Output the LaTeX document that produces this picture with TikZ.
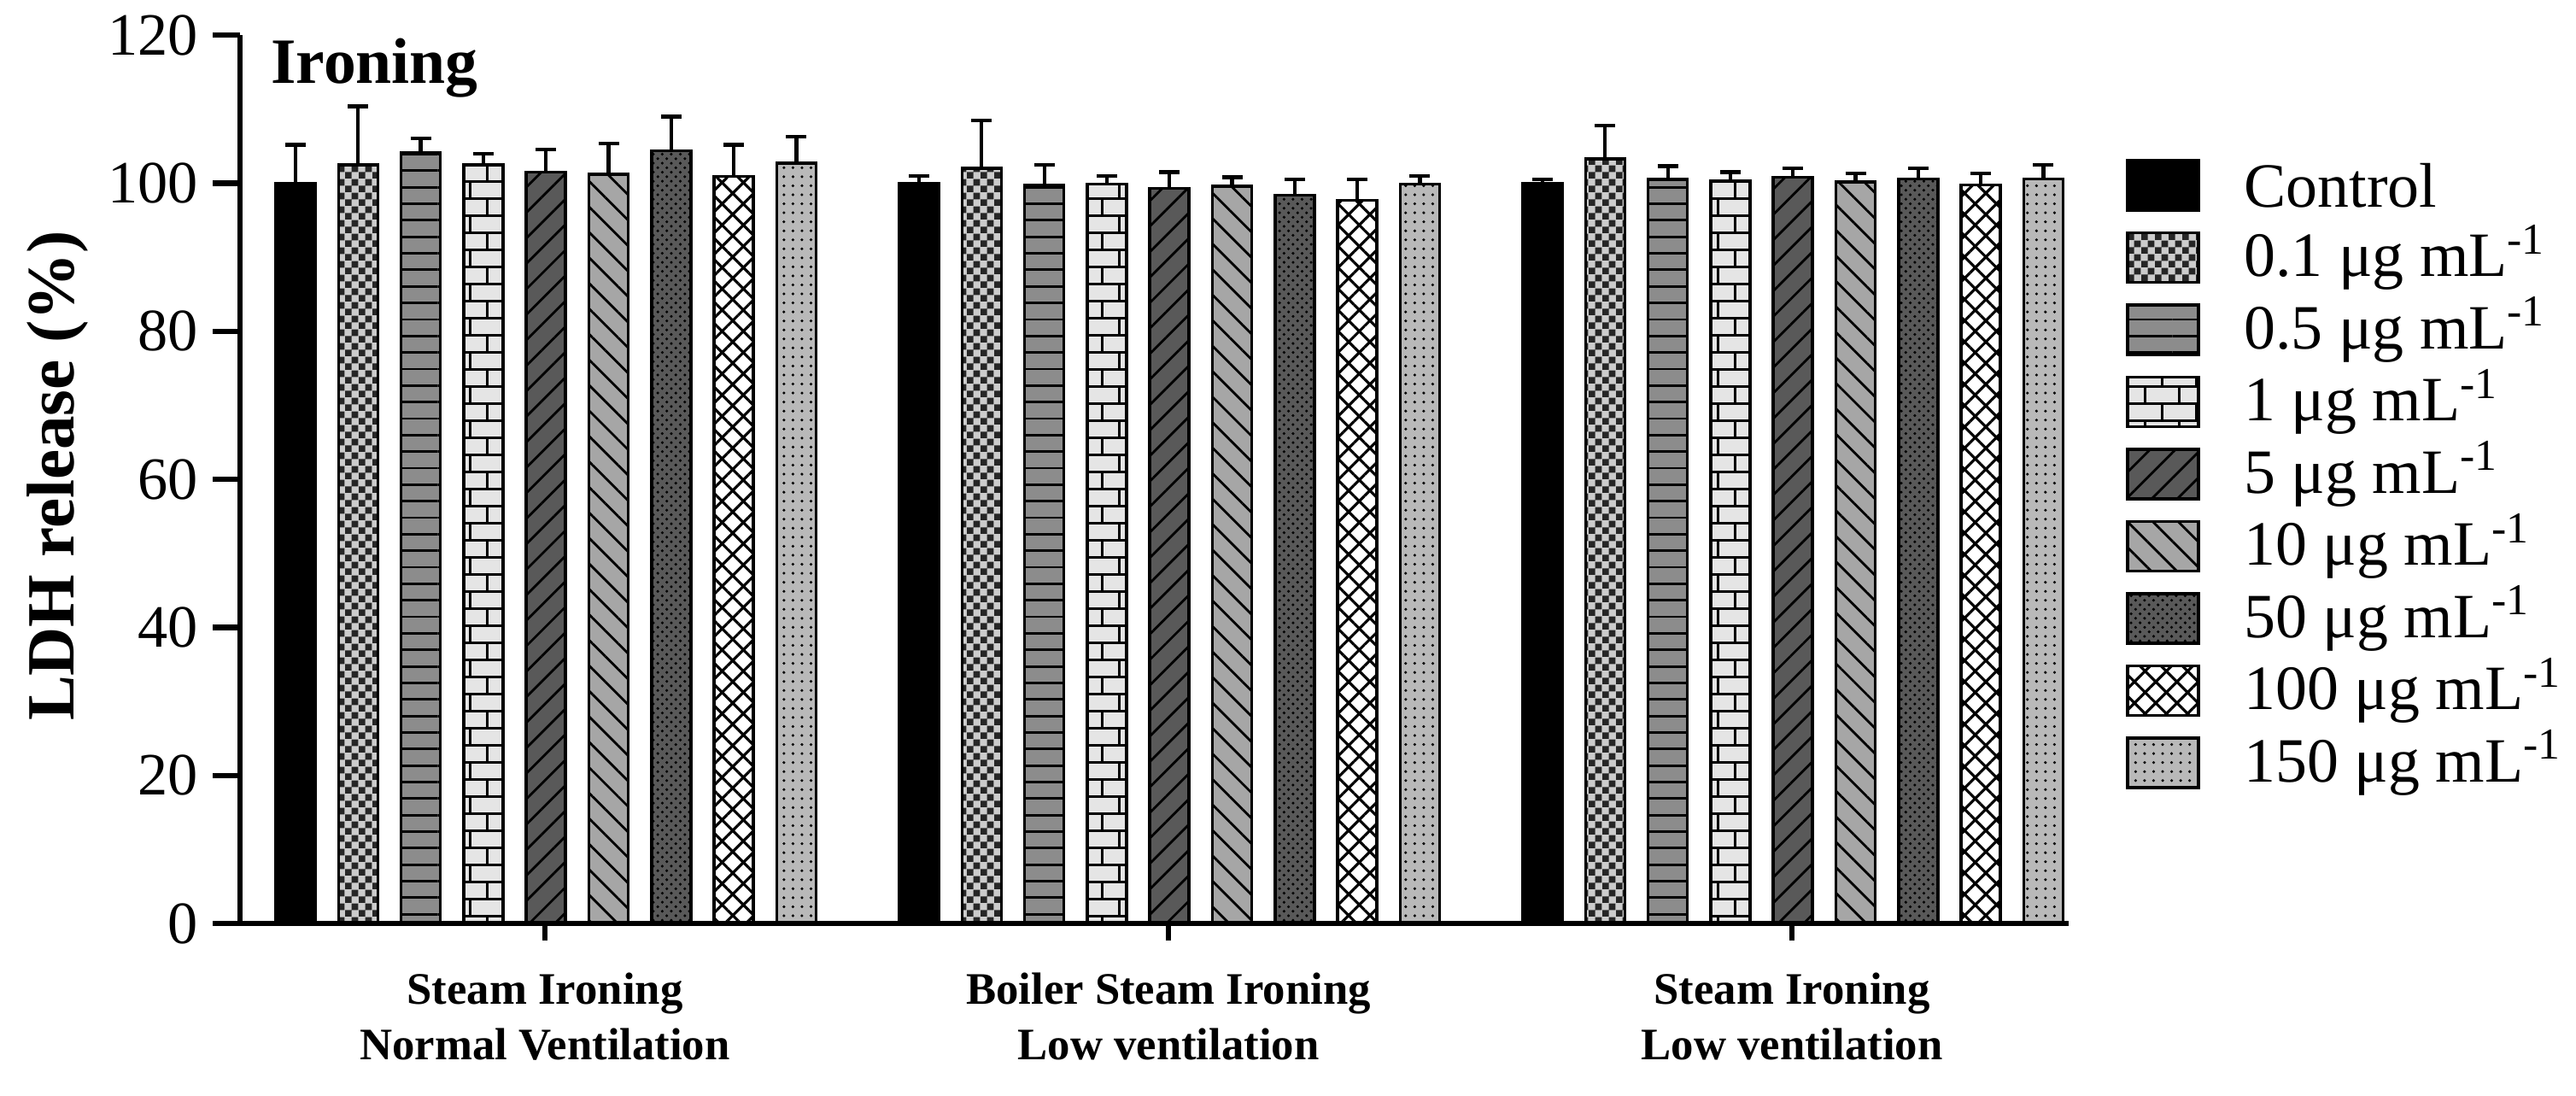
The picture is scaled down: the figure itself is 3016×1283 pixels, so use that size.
\documentclass[tikz,border=0pt]{standalone}
\usepackage{fontspec}
\setmainfont{Liberation Serif}
\usetikzlibrary{patterns,patterns.meta}
\newcommand{\munit}{μg mL\textsuperscript{-1}}
\pgfdeclarepatternformonly{finecheck}{\pgfpointorigin}{\pgfpoint{4.6pt}{4.6pt}}{\pgfpoint{4.6pt}{4.6pt}}{%
 \pgfpathrectangle{\pgfpointorigin}{\pgfpoint{2.3pt}{2.3pt}}%
 \pgfpathrectangle{\pgfpoint{2.3pt}{2.3pt}}{\pgfpoint{2.3pt}{2.3pt}}%
 \pgfusepath{fill}}
\tikzset{
 bar/.style={draw=black,line width=1pt},
 s0/.style={bar,fill=black},
 s1/.style={bar,fill=gray!40},
 s2/.style={bar,fill=gray!90},
 s3/.style={bar,fill=gray!20},
 s4/.style={bar,fill=black!65},
 s5/.style={bar,fill=gray!70},
 s6/.style={bar,fill=black!65},
 s7/.style={bar,fill=white},
 s8/.style={bar,fill=gray!55},
 p0/.style={},
 p1/.style={pattern=finecheck,pattern color=black!85},
 p2/.style={pattern={Lines[angle=0,distance=5.5pt,line width=0.8pt]}},
 p3/.style={pattern=bricks},
 p4/.style={pattern={Lines[angle=45,distance=6pt,line width=0.8pt]}},
 p5/.style={pattern={Lines[angle=-45,distance=6pt,line width=0.8pt]}},
 p6/.style={pattern=crosshatch dots},
 p7/.style={pattern={Hatch[angle=45,distance=5pt,line width=0.9pt]}},
 p8/.style={pattern=dots},
 axis/.style={line width=1.8pt},
 tick/.style={font=\fontsize{20}{22}\selectfont},
 cat/.style={font=\bfseries\fontsize{15}{18.5}\selectfont,align=center},
 leg/.style={font=\fontsize{21}{24}\selectfont,anchor=west}
}
\begin{document}
\begin{tikzpicture}[x=0.01cm,y=0.01cm]
\useasboundingbox (0,0) rectangle (3016,1283);
\begin{scope}[shift={(0,202)},y=0.0866cm]
\foreach \g/\vals in {0/{100/105.2,102.5/110.4,104.1/106.1,102.5/104,101.5/104.6,101.2/105.4,104.4/109,100.9/105.2,102.7/106.3},
 1/{100/101,102/108.5,99.8/102.5,99.9/101,99.3/101.5,99.6/100.8,98.4/100.5,97.7/100.5,99.9/101},
 2/{100/100.5,103.3/107.8,100.5/102.3,100.3/101.5,100.8/102,100.2/101.3,100.6/102,99.8/101.3,100.6/102.5}}{
 \foreach \v/\e [count=\i from 0] in \vals {
  \pgfmathsetmacro\xl{323+730*\g+73.3*\i}
  \pgfmathsetmacro\xc{\xl+23}
  \draw[line width=1.2pt] (\xc,\v) -- (\xc,\e) coordinate (e\g\i);
  \draw[line width=1.2pt] (\xc-12,\e) -- (\xc+12,\e);
  \path[s\i] (\xl,0) rectangle (\xl+46,\v);
  \path[p\i] (\xl,0) rectangle (\xl+46,\v);
  \draw[bar] (\xl,0) rectangle (\xl+46,\v);
 }
}
\draw[axis] (281,0) -- (281,120);
\draw[axis] (249,0) -- (2422,0);
\foreach \t in {20,40,...,120}{\draw[axis] (249,\t) -- (281,\t);}
\foreach \t in {0,20,...,120}{\node[tick,anchor=east] (t\t) at (244,\t) {\t};}
\foreach \c in {638,1368,2098}{\draw[axis] (\c,0) -- (\c,-2.3);}
\node[font=\bfseries\fontsize{22.5}{25}\selectfont,rotate=90] (ylab) at (67,60.5) {LDH release (\%)};
\end{scope}
\node[cat] (c1) at (638,93) {Steam Ironing\\Normal Ventilation};
\node[cat] (c2) at (1368,93) {Boiler Steam Ironing\\Low ventilation};
\node[cat] (c3) at (2098,93) {Steam Ironing\\Low ventilation};
\node[font=\bfseries\fontsize{21.5}{24}\selectfont,anchor=west] (title) at (305,1203) {Ironing};
\foreach \lab [count=\i from 0] in {Control,0.1 \munit,0.5 \munit,1 \munit,5 \munit,10 \munit,50 \munit,100 \munit,150 \munit}{
 \pgfmathsetmacro\yc{1066-84.5*\i}
 \path[s\i] (2491,\yc-29) rectangle (2574,\yc+29);
 \path[p\i] (2491,\yc-29) rectangle (2574,\yc+29);
 \draw[bar] (2491,\yc-29) rectangle (2574,\yc+29);
 \node[leg] (l\i) at (2615,\yc) {\lab};
}
\end{tikzpicture}
\end{document}
